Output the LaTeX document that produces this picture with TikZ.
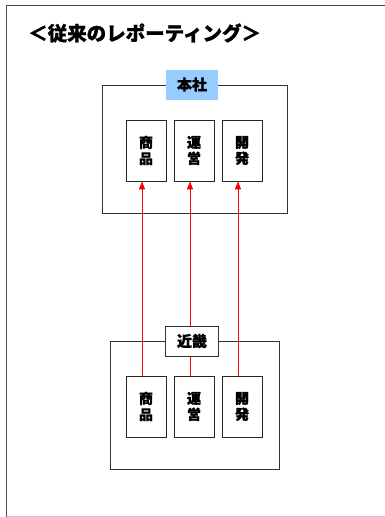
\documentclass[tikz,border=0pt]{standalone}
\usepackage{fontspec}
\setmainfont{Noto Sans CJK JP}[BoldFeatures={FakeBold=1.2}]
\usetikzlibrary{arrows.meta}
\definecolor{tagblue}{RGB}{153,204,255}
\begin{document}
\begin{tikzpicture}[x=1pt,y=-1pt,
    frame/.style={draw=black!80,line width=0.8pt,inner sep=0pt},
    dept/.style={draw=black!85,line width=0.8pt,fill=white,minimum width=40pt,minimum height=61pt,inner sep=0pt,align=center,font=\fontsize{14}{16}\selectfont\bfseries},
    tag/.style={inner sep=0pt,minimum height=30pt,font=\fontsize{15}{15}\selectfont\bfseries},
    report/.style={red,line width=0.8pt,-{Triangle[length=8pt,width=6pt]}}]
    \useasboundingbox (0,0) rectangle (385,517);

    % page frame
    \draw[black!70,line width=0.9pt] (6.5,517) -- (6.5,5) -- (385,5);
    \draw[black!20,line width=0.9pt] (6.5,516) -- (385,516);

    \node[anchor=west,inner sep=0pt,font=\fontsize{19.5}{19.5}\selectfont\bfseries] (title) at (28,33) {＜従来のレポーティング＞};

    % head office
    \node[frame,minimum width=185pt,minimum height=128pt] (honsha) at (194.5,149) {};
    \node[dept] (hShohin) at (146,150.5) {商\\品};
    \node[dept] (hUnei) at (194,150.5) {運\\営};
    \node[dept] (hKaihatsu) at (242,150.5) {開\\発};

    % kinki branch
    \node[frame,minimum width=169pt,minimum height=128pt] (kinki) at (194.5,405) {};
    \node[dept] (kShohin) at (146,406.5) {商\\品};
    \node[dept] (kUnei) at (194,406.5) {運\\営};
    \node[dept] (kKaihatsu) at (242,406.5) {開\\発};

    % reporting lines
    \draw[report] ([xshift=-4pt]kShohin.north) -- ([xshift=-4pt]hShohin.south);
    \draw[report] ([xshift=-4pt]kUnei.north) -- ([xshift=-4pt]hUnei.south);
    \draw[report] ([xshift=-4pt]kKaihatsu.north) -- ([xshift=-4pt]hKaihatsu.south);

    \node[tag,fill=tagblue,minimum width=52pt] (honshaTag) at (192,84.5) {本社};
    \node[tag,draw=black!80,line width=0.8pt,fill=white,minimum width=53pt] (kinkiTag) at (192,341) {近畿};
\end{tikzpicture}
\end{document}
